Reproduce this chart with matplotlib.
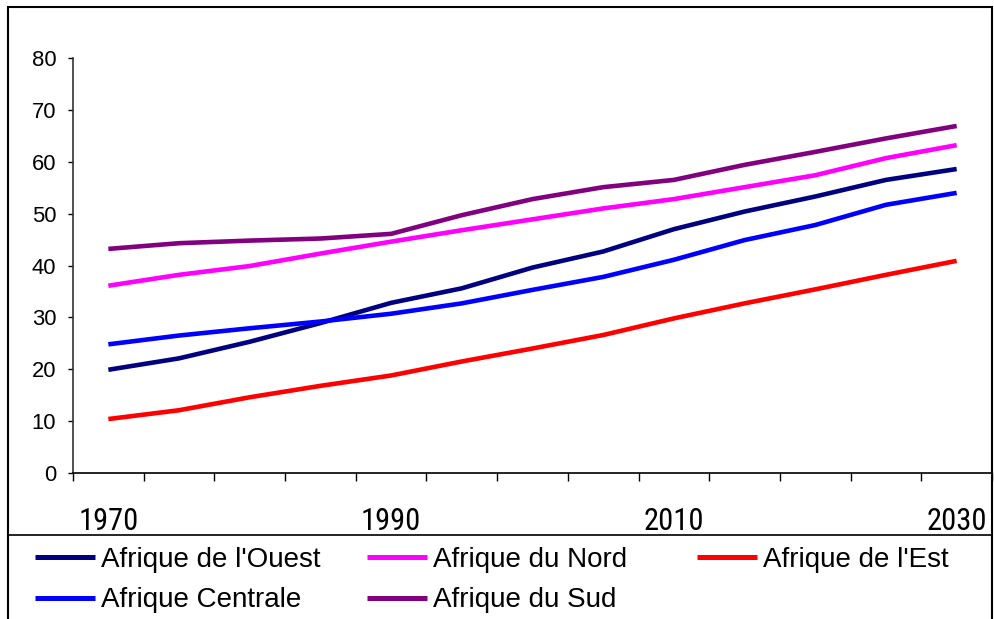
import matplotlib
matplotlib.use("Agg")
import matplotlib.pyplot as plt
from matplotlib import font_manager
from matplotlib.lines import Line2D
from matplotlib.patches import Rectangle

years = [1970, 1975, 1980, 1985, 1990, 1995, 2000, 2005, 2010, 2015, 2020, 2025, 2030]
year_labels = ["1970", "1990", "2010", "2030"]

ouest = [19.9, 22.1, 25.3, 28.9, 32.8, 35.6, 39.6, 42.7, 47.0, 50.4, 53.3, 56.5, 58.6]
nord = [36.1, 38.2, 39.9, 42.3, 44.6, 46.8, 48.9, 51.0, 52.8, 55.1, 57.4, 60.7, 63.2]
est = [10.4, 12.1, 14.6, 16.8, 18.8, 21.5, 24.0, 26.6, 29.8, 32.7, 35.4, 38.2, 40.9]
centrale = [24.8, 26.5, 27.9, 29.2, 30.7, 32.7, 35.3, 37.8, 41.1, 44.9, 47.8, 51.7, 54.0]
sud = [43.2, 44.3, 44.8, 45.2, 46.1, 49.7, 52.8, 55.1, 56.5, 59.4, 61.9, 64.5, 66.9]

series_names = ["Afrique de l'Ouest", "Afrique du Nord", "Afrique de l'Est",
                "Afrique Centrale", "Afrique du Sud"]
series_vals = [ouest, nord, est, centrale, sud]
colors = ["#000080", "#FF00FF", "#FF0000", "#0000FF", "#800080"]


def pick_narrow():
    names = {f.name for f in font_manager.fontManager.ttflist}
    for cand, size in [("Liberation Sans Narrow", 22.7), ("Roboto Condensed", 22.0),
                       ("DejaVu Sans Condensed", 20.5)]:
        if cand in names:
            return cand, size
    return "Liberation Sans", 19.5


narrow_family, narrow_size = pick_narrow()

W, H = 995, 619
fig = plt.figure(figsize=(W / 100, H / 100), dpi=100)
ax = fig.add_axes([73 / W, 1 - 473 / H, (992 - 73) / W, (473 - 58) / H])

pos = list(range(len(years)))
lines = {}
for name, vals, c in zip(series_names, series_vals, colors):
    ln, = ax.plot(pos, vals, color=c, lw=3.3, solid_capstyle="butt", label=name)
    lines[name] = ln

ax.set_xlim(-0.5, len(years) - 0.5)
ax.set_ylim(0, 80)
ax.set_yticks(range(0, 81, 10))
ax.tick_params(axis="y", direction="out", length=3.6, width=1.0, pad=8.5,
               labelsize=15.8)
for lab in ax.get_yticklabels():
    lab.set_fontfamily(["Liberation Sans", "DejaVu Sans"])

ax.set_xticks([p - 0.5 for p in range(len(years) + 1)])
ax.set_xticklabels([])
ax.tick_params(axis="x", which="major", direction="out", length=6, width=1.0)
label_pos = [years.index(int(y)) for y in year_labels]
ax.set_xticks(label_pos, minor=True)
ax.set_xticklabels(year_labels, minor=True)
ax.tick_params(axis="x", which="minor", length=0, pad=24 + (22.7 - narrow_size) * 0.5,
               labelsize=narrow_size)
for lab in ax.get_xticklabels(minor=True):
    lab.set_fontfamily([narrow_family, "Liberation Sans", "DejaVu Sans"])

for s in ["top", "right"]:
    ax.spines[s].set_visible(False)
ax.spines["left"].set_color("#333333")
ax.spines["left"].set_linewidth(1.2)
ax.spines["bottom"].set_linewidth(1.2)

# outer frame
fig.patches.append(Rectangle((8 / W, -0.05), (992 - 8) / W, 1.05 - 7 / H,
                             transform=fig.transFigure, fill=False,
                             edgecolor="black", lw=1.5, zorder=10))
# legend separator
fig.lines.append(Line2D([8 / W, 992 / W], [1 - 535 / H, 1 - 535 / H],
                        transform=fig.transFigure, color="black", lw=1.2))

legend_cols = [["Afrique de l'Ouest", "Afrique Centrale"],
               ["Afrique du Nord", "Afrique du Sud"],
               ["Afrique de l'Est"]]
col_x = [35, 367, 697]
for names, x in zip(legend_cols, col_x):
    leg = fig.legend([lines[n] for n in names], names, loc="upper left",
                     bbox_to_anchor=(x / W, 1 - 547 / H), frameon=False,
                     borderpad=0, borderaxespad=0, handlelength=2.15,
                     handletextpad=0.22, labelspacing=0.52,
                     prop={"family": ["Liberation Sans", "DejaVu Sans"], "size": 20})
    for h in leg.legend_handles:
        h.set_linewidth(3.6)

fig.savefig("out.png", dpi=100)
